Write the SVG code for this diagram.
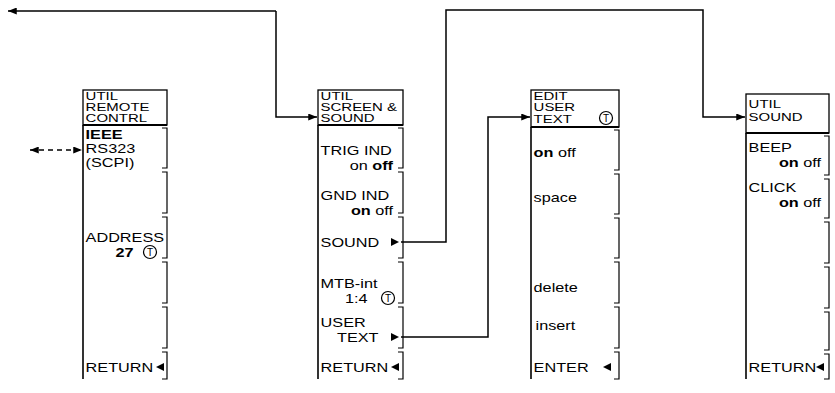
<svg xmlns="http://www.w3.org/2000/svg" width="835" height="393" viewBox="0 0 835 393">
<defs>
<marker id="ah" viewBox="0 0 10 8" refX="10" refY="4" markerWidth="9" markerHeight="7" markerUnits="userSpaceOnUse" orient="auto-start-reverse"><path d="M0,0 L10,4 L0,8 z" fill="#000"/></marker>
<style>
text{font-family:"Liberation Sans",Arial,sans-serif;font-size:12.5px;fill:#000}
.h{font-size:11.5px}
.b{font-weight:bold}
.box{fill:none;stroke:#000;stroke-width:1.3}
.hl{stroke:#000;stroke-width:2}
.edge{fill:none;stroke:#000;stroke-width:1.6}
.br{fill:none;stroke:#000;stroke-width:1.2}
.c{fill:none;stroke:#000;stroke-width:1.5}
.t{font-size:10px;text-anchor:middle}
</style>
</defs>
<rect width="835" height="393" fill="#fff"/>
<g id="connectors">
<path class="c" d="M276,11 H8" marker-end="url(#ah)"/>
<path class="c" d="M276,11 V117 H317" marker-end="url(#ah)"/>
<path class="c" d="M401,242 H446 V10 H703 V117 H745" marker-end="url(#ah)"/>
<path class="c" d="M401,337 H488 V117 H530" marker-end="url(#ah)"/>
<path class="c" d="M30,150 H82" stroke-dasharray="5,4" marker-start="url(#ah)" marker-end="url(#ah)"/>
</g>
<g id="menu-remote">
<rect class="box" x="83" y="90" width="84" height="35"/>
<line class="hl" x1="83" y1="125" x2="167" y2="125"/>
<line class="edge" x1="83" y1="125" x2="83" y2="379"/>
<path class="br" d="M162,128 H167 V168 H162 M162,172 H167 V213 H162 M162,217 H167 V258 H162 M162,262 H167 V303 H162 M162,307 H167 V348 H162 M162,352 H167 V379 H162"/>
<circle class="br" cx="150" cy="252" r="6.5"/><text class="t" x="150" y="256">T</text>
<polygon points="156,367 164,363 164,371"/>
<g transform="translate(83,0) scale(1.3,1)">
<text class="h" x="2" y="100">UTIL</text>
<text class="h" x="2" y="111">REMOTE</text>
<text class="h" x="2" y="122">CONTRL</text>
<text class="b" x="2" y="139">IEEE</text>
<text x="2" y="153">RS323</text>
<text x="2" y="167">(SCPI)</text>
<text x="2" y="242">ADDRESS</text>
<text class="b" x="25" y="257">27</text>
<text x="2" y="372">RETURN</text>
</g>
</g>
<g id="menu-screen-sound">
<rect class="box" x="318" y="90" width="85" height="35"/>
<line class="hl" x1="318" y1="125" x2="403" y2="125"/>
<line class="edge" x1="318" y1="125" x2="318" y2="379"/>
<path class="br" d="M398,128 H403 V168 H398 M398,172 H403 V213 H398 M398,217 H403 V258 H398 M398,262 H403 V303 H398 M398,307 H403 V348 H398 M398,352 H403 V379 H398"/>
<polygon points="391,238 399,242 391,246"/>
<circle class="br" cx="388" cy="298" r="6.5"/><text class="t" x="388" y="302">T</text>
<polygon points="391,333 399,337 391,341"/>
<polygon points="391,367 399,363 399,371"/>
<g transform="translate(318,0) scale(1.3,1)">
<text class="h" x="2" y="100">UTIL</text>
<text class="h" x="2" y="111">SCREEN &amp;</text>
<text class="h" x="2" y="122">SOUND</text>
<text x="2" y="155">TRIG IND</text>
<text x="57.7" y="170" text-anchor="end">on <tspan class="b">off</tspan></text>
<text x="2" y="200">GND IND</text>
<text x="57.7" y="215" text-anchor="end"><tspan class="b">on</tspan> off</text>
<text x="2" y="247">SOUND</text>
<text x="2" y="288">MTB-int</text>
<text x="20.8" y="303">1:4</text>
<text x="2" y="327">USER</text>
<text x="14.6" y="342">TEXT</text>
<text x="2" y="372">RETURN</text>
</g>
</g>
<g id="menu-edit-text">
<rect class="box" x="531" y="90" width="88" height="37"/>
<line class="hl" x1="531" y1="127" x2="619" y2="127"/>
<line class="edge" x1="531" y1="127" x2="531" y2="379"/>
<path class="br" d="M614,130 H619 V170 H614 M614,174 H619 V214 H614 M614,218 H619 V258 H614 M614,262 H619 V303 H614 M614,307 H619 V348 H614 M614,352 H619 V379 H614"/>
<circle class="br" cx="606" cy="118" r="6.5"/><text class="t" x="606" y="122">T</text>
<polygon points="603,367 611,363 611,371"/>
<g transform="translate(531,0) scale(1.3,1)">
<text class="h" x="2" y="100">EDIT</text>
<text class="h" x="2" y="111">USER</text>
<text class="h" x="2" y="123">TEXT</text>
<text x="2" y="157"><tspan class="b">on</tspan> off</text>
<text x="2" y="202">space</text>
<text x="2" y="292">delete</text>
<text x="3.5" y="330">insert</text>
<text x="2" y="372">ENTER</text>
</g>
</g>
<g id="menu-sound">
<rect class="box" x="746" y="94" width="83" height="39"/>
<line class="hl" x1="746" y1="133" x2="829" y2="133"/>
<line class="edge" x1="746" y1="133" x2="746" y2="379"/>
<path class="br" d="M824,136 H829 V175 H824 M824,179 H829 V218 H824 M824,222 H829 V263 H824 M824,267 H829 V308 H824 M824,312 H829 V350 H824 M824,354 H829 V379 H824"/>
<polygon points="816,367 824,363 824,371"/>
<g transform="translate(746,0) scale(1.3,1)">
<text class="h" x="2" y="108">UTIL</text>
<text class="h" x="2" y="121">SOUND</text>
<text x="2" y="152">BEEP</text>
<text x="57.7" y="167" text-anchor="end"><tspan class="b">on</tspan> off</text>
<text x="2" y="192">CLICK</text>
<text x="57.7" y="207" text-anchor="end"><tspan class="b">on</tspan> off</text>
<text x="2" y="372">RETURN</text>
</g>
</g>
</svg>
